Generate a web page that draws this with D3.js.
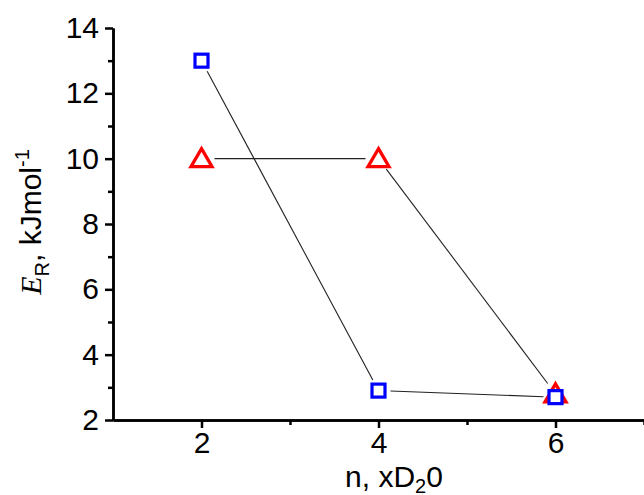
<!DOCTYPE html>
<html>
<head>
<meta charset="utf-8">
<script src="https://cdn.jsdelivr.net/npm/d3@7"></script>
<style>
  html, body { margin: 0; padding: 0; background: #fff; }
  svg { display: block; }
</style>
</head>
<body>
<div id="chart"></div>
<script>
// data
const nValues = [2, 4, 6];
const squareSeries = [13, 2.9, 2.7];
const triangleSeries = [10, 10, 2.8];
const xTickValues = [2, 4, 6];
const xMinorValues = [3, 5, 7];
const yTickValues = [2, 4, 6, 8, 10, 12, 14];
const yMinorValues = [3, 5, 7, 9, 11, 13];

const width = 644;
const height = 495;
const margin = { left: 113, right: 0, top: 28, bottom: 75 };

const svg = d3.select("#chart")
  .append("svg")
  .attr("width", width)
  .attr("height", height);

const x = d3.scaleLinear().domain([1, 7]).range([margin.left, width - margin.right]);
const y = d3.scaleLinear().domain([2, 14]).range([height - margin.bottom, margin.top]);

const font = "'Liberation Sans', Arial, sans-serif";

// x axis
const gx = svg.append("g")
  .attr("transform", `translate(0, ${y(2)})`);
gx.call(d3.axisBottom(x).tickValues(xTickValues).tickFormat(d3.format("d")).tickSize(8).tickPadding(4).tickSizeOuter(0));
gx.append("g").call(d3.axisBottom(x).tickValues(xMinorValues).tickSize(5).tickFormat("").tickSizeOuter(0));

// y axis
const gy = svg.append("g")
  .attr("transform", `translate(${x(1)}, 0)`);
gy.call(d3.axisLeft(y).tickValues(yTickValues).tickFormat(d3.format("d")).tickSize(8).tickPadding(6).tickSizeOuter(0));
gy.append("g").call(d3.axisLeft(y).tickValues(yMinorValues).tickSize(5).tickFormat("").tickSizeOuter(0));

svg.selectAll(".domain").attr("stroke", "#000").attr("stroke-width", 2.5);
svg.selectAll(".tick line").attr("stroke", "#000").attr("stroke-width", 2.5);
svg.selectAll(".tick text")
  .attr("fill", "#000")
  .style("font-family", font)
  .style("font-size", "30px");

// connecting lines with gaps at markers
function drawSeries(vals, gap) {
  const pts = nValues.map((n, i) => [x(n), y(vals[i])]);
  for (let i = 0; i < pts.length - 1; i++) {
    const [x1, y1] = pts[i];
    const [x2, y2] = pts[i + 1];
    const len = Math.hypot(x2 - x1, y2 - y1);
    const ux = (x2 - x1) / len, uy = (y2 - y1) / len;
    svg.append("line")
      .attr("x1", x1 + ux * gap).attr("y1", y1 + uy * gap)
      .attr("x2", x2 - ux * gap).attr("y2", y2 - uy * gap)
      .attr("stroke", "#222")
      .attr("stroke-width", 1.1);
  }
}
drawSeries(squareSeries, 12);
drawSeries(triangleSeries, 13);

// markers
const triPath = "M0,-11 L10.5,7 L-10.5,7 Z";
svg.selectAll(".tri")
  .data(nValues.map((n, i) => ({ n, v: triangleSeries[i] })))
  .enter()
  .append("path")
  .attr("d", triPath)
  .attr("transform", d => `translate(${x(d.n)}, ${y(d.v) + 1})`)
  .attr("fill", "#fff")
  .attr("stroke", "#ff0000")
  .attr("stroke-width", 3.3)
  .attr("stroke-linejoin", "miter");

svg.selectAll(".sq")
  .data(nValues.map((n, i) => ({ n, v: squareSeries[i] })))
  .enter()
  .append("rect")
  .attr("x", d => x(d.n) - 6.5)
  .attr("y", d => y(d.v) - 6.5)
  .attr("width", 13)
  .attr("height", 13)
  .attr("fill", "#fff")
  .attr("stroke", "#0000ff")
  .attr("stroke-width", 3.2);

// x axis label
const xl = svg.append("text")
  .attr("x", 394)
  .attr("y", 487)
  .attr("text-anchor", "middle")
  .style("font-family", font)
  .style("font-size", "30px")
  .attr("fill", "#000");
xl.append("tspan").text("n, xD");
xl.append("tspan").attr("dy", 6).style("font-size", "20px").text("2");
xl.append("tspan").attr("dy", -6).text("0");

// y axis label
const yl = svg.append("text")
  .attr("transform", `translate(41, 222) rotate(-90)`)
  .attr("text-anchor", "middle")
  .style("font-family", font)
  .style("font-size", "30px")
  .attr("fill", "#000");
yl.append("tspan").style("font-family", "'Liberation Serif', 'Times New Roman', serif").style("font-style", "italic").text("E");
yl.append("tspan").attr("dy", 8).style("font-size", "20px").text("R");
yl.append("tspan").attr("dy", -8).text(", kJmol");
yl.append("tspan").attr("dy", -12).style("font-size", "20px").text("-1");
</script>
</body>
</html>
